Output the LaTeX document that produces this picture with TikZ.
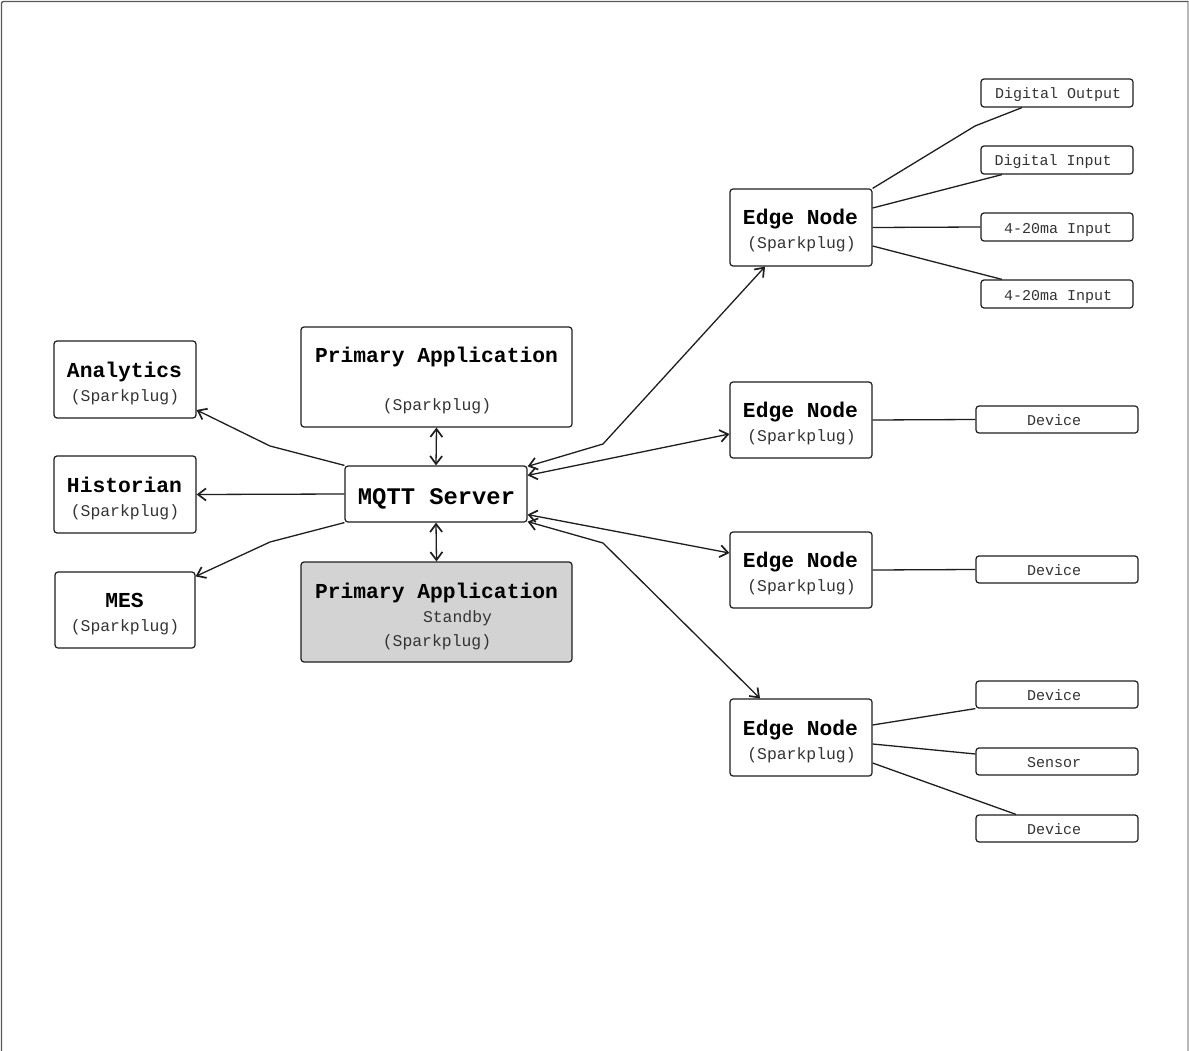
\documentclass[tikz,border=0pt]{standalone}
\usepackage{fontspec}
\newfontfamily\mono{Liberation Mono}
\usetikzlibrary{arrows.meta}
\definecolor{ln}{HTML}{1E1E1E}
\definecolor{sub}{HTML}{333333}
\definecolor{stb}{HTML}{D3D3D3}
\tikzset{
  box/.style={draw=ln, line width=1.2pt, rounded corners=3pt, fill=white, inner sep=0pt},
  ttl/.style={anchor=base, inner sep=0pt, font=\mono\bfseries\fontsize{21.3}{22}\selectfont, text=black},
  big/.style={anchor=base, inner sep=0pt, font=\mono\bfseries\fontsize{23.8}{24}\selectfont, text=black},
  subt/.style={anchor=base, inner sep=0pt, font=\mono\fontsize{16.4}{17}\selectfont, text=sub},
  sml/.style={anchor=base, inner sep=0pt, font=\mono\fontsize{15}{16}\selectfont, text=sub},
  conn/.style={draw=ln, line width=1.3pt},
  tip/.tip={Straight Barb[length=8pt,width=12pt,line width=1.7pt]},
  arr/.style={conn, -tip},
  darr/.style={conn, tip-tip},
}
\begin{document}
\begin{tikzpicture}[x=1pt,y=-1pt]
\useasboundingbox (0,0) rectangle (1189,1051);
\fill[white] (0,0) rectangle (1189,1051);
% frame
\draw[color=gray!55, line width=1.2pt] (1188,1.5) -- (1188,1060);
\draw[color=black!65, line width=1.4pt, rounded corners=2pt] (1.5,1060) -- (1.5,1.5) -- (1188,1.5);

% left boxes
\node[box, minimum width=142pt, minimum height=77pt] (an) at (125,379.5) {};
\node[ttl] (ant) at (124.5,377) {Analytics};
\node[subt] (ans) at (125,401) {(Sparkplug)};

\node[box, minimum width=142pt, minimum height=77pt] (hi) at (125,494.5) {};
\node[ttl] (hit) at (124.5,492) {Historian};
\node[subt] (his) at (125,516) {(Sparkplug)};

\node[box, minimum width=140pt, minimum height=76pt] (mes) at (125,610) {};
\node[ttl] (mest) at (124.5,607) {MES};
\node[subt] (mess) at (125,631) {(Sparkplug)};

% center
\node[box, minimum width=271pt, minimum height=100pt] (pa) at (436.5,377) {};
\node[ttl] (pat) at (436.5,362) {Primary Application};
\node[subt] (pas) at (437,410) {(Sparkplug)};

\node[box, minimum width=182pt, minimum height=56pt] (mq) at (436,494) {};
\node[big] (mqt) at (436.5,504) {MQTT Server};

\node[box, fill=stb, minimum width=271pt, minimum height=100pt] (sb) at (436.5,612) {};
\node[ttl] (sbt) at (436.5,598) {Primary Application};
\node[subt] (sbs) at (457.5,622) {Standby};
\node[subt] (sbp) at (437,646.5) {(Sparkplug)};

% edge nodes
\node[box, minimum width=142pt, minimum height=77pt] (en1) at (801,227.5) {};
\node[ttl] (en1t) at (800.5,224.5) {Edge Node};
\node[subt] (en1s) at (801.5,248.5) {(Sparkplug)};

\node[box, minimum width=142pt, minimum height=76pt] (en2) at (801,420) {};
\node[ttl] (en2t) at (800.5,417.5) {Edge Node};
\node[subt] (en2s) at (801.5,441.5) {(Sparkplug)};

\node[box, minimum width=142pt, minimum height=76pt] (en3) at (801,570) {};
\node[ttl] (en3t) at (800.5,567.5) {Edge Node};
\node[subt] (en3s) at (801.5,591.5) {(Sparkplug)};

\node[box, minimum width=142pt, minimum height=77pt] (en4) at (801,737.5) {};
\node[ttl] (en4t) at (800.5,735.5) {Edge Node};
\node[subt] (en4s) at (801.5,759.5) {(Sparkplug)};

% IO boxes
\node[box, minimum width=152pt, minimum height=28pt] (do) at (1057,93) {};
\node[sml] (dot) at (1058,99) {Digital Output};
\node[box, minimum width=152pt, minimum height=28pt] (di) at (1057,160) {};
\node[sml] (dit) at (1053,166) {Digital Input};
\node[box, minimum width=152pt, minimum height=28pt] (ai1) at (1057,227) {};
\node[sml] (ai1t) at (1058,233.5) {4-20ma Input};
\node[box, minimum width=152pt, minimum height=28pt] (ai2) at (1057,294) {};
\node[sml] (ai2t) at (1058,300.5) {4-20ma Input};

\node[box, minimum width=162pt, minimum height=27pt] (d2) at (1057,419.5) {};
\node[sml] (d2t) at (1054,425.5) {Device};
\node[box, minimum width=162pt, minimum height=27pt] (d3) at (1057,569.5) {};
\node[sml] (d3t) at (1054,575.5) {Device};
\node[box, minimum width=162pt, minimum height=27pt] (d4a) at (1057,694.5) {};
\node[sml] (d4at) at (1054,700.5) {Device};
\node[box, minimum width=162pt, minimum height=27pt] (s4) at (1057,761.5) {};
\node[sml] (s4t) at (1054,767.5) {Sensor};
\node[box, minimum width=162pt, minimum height=27pt] (d4b) at (1057,828.5) {};
\node[sml] (d4bt) at (1054,834.5) {Device};

% connectors from MQTT to left
\draw[arr] (mq.north west) -- (270,446) -- ([yshift=-30.5pt]an.east);
\draw[arr] (mq.west) -- (hi.east);
\draw[arr] (mq.south west) -- (270,542) -- ([yshift=-5pt]mes.north east);
\draw[darr] (pa.south) -- (mq.north);
\draw[darr] (mq.south) -- (sb.north);

% MQTT <-> edge nodes
\draw[darr] ([xshift=-36pt]en1.south) -- (603,444) -- ([yshift=-1pt]mq.north east);
\draw[darr] ([yshift=-10pt]mq.north east) -- ([yshift=-14pt]en2.west);
\draw[darr] ([yshift=8pt]mq.south east) -- ([yshift=17pt]en3.west);
\draw[darr] ([yshift=1pt]mq.south east) -- (603,543) -- ([xshift=-41pt]en4.north);

% edge node to IO
\draw[conn] (en1.north east) -- (975,126) -- ([xshift=-35pt]do.south);
\draw[conn] ([yshift=19.5pt]en1.east) -- ([xshift=-55pt]di.south);
\draw[conn] (en1.east) -- (ai1.west);
\draw[conn] ([yshift=-18.5pt]en1.east) -- ([xshift=-55pt]ai2.north);
\draw[conn] (en2.east) -- (d2.west);
\draw[conn] (en3.east) -- (d3.west);
\draw[conn] ([yshift=12.5pt]en4.east) -- (d4a.south west);
\draw[conn] ([yshift=-6.5pt]en4.east) -- ([yshift=7.5pt]s4.west);
\draw[conn] ([yshift=-25.5pt]en4.east) -- ([xshift=-41pt]d4b.north);
\end{tikzpicture}
\end{document}
